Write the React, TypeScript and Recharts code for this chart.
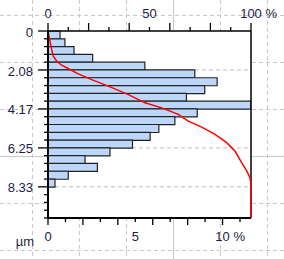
import { ComposedChart, Bar, Line, XAxis, YAxis, CartesianGrid, ReferenceLine } from 'recharts';

const FONT = '"Liberation Sans", Arial, sans-serif';
const FONT_SIZE = 13;
const INK = '#1c1c48';

// histogram bins: upper edge of each class (µm) and its share (%)
const binEdges = [
  '0.42', '0.83', '1.25', '1.67', '2.08', '2.50', '2.92', '3.33', '3.75', '4.17', '4.58', '5.00',
  '5.42', '5.83', '6.25', '6.67', '7.08', '7.50', '7.92', '8.33', '8.75', '9.17', '9.58', '10.0',
];
const binShare = [
  0.69, 0.97, 1.49, 2.56, 5.55, 8.41, 9.69, 8.98, 7.93, 11.63, 8.55, 7.27,
  6.35, 5.85, 4.84, 3.55, 2.12, 2.83, 1.16, 0.4, 0, 0, 0, 0,
];

// cumulative curve (red), depth in µm vs cumulative %
const curveDepth = [
  0, 0.55, 1.0, 1.35, 1.62, 1.83, 2.06, 2.29, 2.6, 2.95, 3.4, 3.84,
  4.11, 4.46, 4.82, 5.14, 5.53, 5.97, 6.42, 7.04, 7.48, 7.84, 8.2, 10,
];
const curveCum = [
  0, 1.0, 1.8, 2.6, 4.3, 6.7, 10.8, 14.9, 21.5, 29.7, 39.6, 47.8,
  56.0, 64.2, 69.1, 75.7, 82.3, 88.0, 92.1, 95.4, 97.9, 99.5, 100, 100,
];

// axis ticks
const depthTicks = [
  0, 0.417, 0.833, 1.25, 1.667, 2.083, 2.5, 2.917, 3.333, 3.75, 4.167, 4.583, 5,
  5.417, 5.833, 6.25, 6.667, 7.083, 7.5, 7.917, 8.333, 8.75, 9.167, 9.583, 10,
];
const depthMajor = [0, 2.083, 4.167, 6.25, 8.333];
const depthLabels = ['0', '2.08', '4.17', '6.25', '8.33'];

const shareTicks = [0, 1, 2, 3, 4, 5, 6, 7, 8, 9, 10, 11];
const shareLabelAt = [0, 5, 10];
const shareLabels = ['0', '5', '10'];
const shareMax = 11.63;

const cumTicks = [0, 10, 20, 30, 40, 50, 60, 70, 80, 90, 100];
const cumLabelAt = [0, 50, 100];
const cumLabels = ['0', '50', '100'];

const data = binEdges.map((bin, i) => ({ bin, share: binShare[i] }));
const curve = curveDepth.map((depth, i) => ({ depth, cum: curveCum[i] }));

const textProps = { fontFamily: FONT, fontSize: FONT_SIZE, fill: INK };

// number centred on the tick, optional " %" hanging after it
function tickText(x: number, y: number, label: string, last: boolean) {
  if (!last) {
    return (
      <text x={x} y={y} dy="0.35em" textAnchor="middle" {...textProps}>
        {label}
      </text>
    );
  }
  const w = label.length * FONT_SIZE * 0.556;
  return (
    <text x={x - w / 2} y={y} dy="0.35em" textAnchor="start" {...textProps}>
      {label + ' %'}
    </text>
  );
}

function TopTick({ x, y, payload }: any) {
  const v = payload.value;
  const i = cumLabelAt.indexOf(v);
  const len = v % 20 === 0 ? 8 : 4;
  return (
    <g>
      <line x1={x} x2={x} y1={y} y2={y - len} stroke="#000" strokeWidth={1.3} />
      {i >= 0 && tickText(x, y - 18, cumLabels[i], i === cumLabels.length - 1)}
    </g>
  );
}

function BottomTick({ x, y, payload }: any) {
  const v = payload.value;
  const i = shareLabelAt.indexOf(v);
  const len = v % 2 === 0 ? 7 : 4;
  return (
    <g>
      <line x1={x} x2={x} y1={y} y2={y + len} stroke="#000" strokeWidth={1.3} />
      {i >= 0 && tickText(x, y + 18, shareLabels[i], i === shareLabels.length - 1)}
    </g>
  );
}

function DepthTick({ x, y, payload }: any) {
  const v = payload.value;
  const i = depthMajor.findIndex((m) => Math.abs(m - v) < 0.01);
  const len = i >= 0 ? 10 : 4;
  return (
    <g>
      <line x1={x - len} x2={x} y1={y} y2={y} stroke="#000" strokeWidth={1.3} />
      {i >= 0 && (
        <text x={x - 15} y={y + 1} dy="0.35em" textAnchor="end" {...textProps}>
          {depthLabels[i]}
        </text>
      )}
    </g>
  );
}

// faint page grid behind the chart
function PageGrid() {
  const pos = [32, 79, 126, 173, 220, 267];
  const ypos = [15, 62, 109, 156, 203, 250];
  return (
    <svg width={284} height={259} style={{ position: 'absolute', left: 0, top: 0 }}>
      {pos.map((x) => (
        <line key={'v' + x} x1={x + 0.5} x2={x + 0.5} y1={0} y2={259} stroke="#c8c8c8"
          strokeDasharray={x === 173 ? undefined : '4 3'} />
      ))}
      {ypos.map((y) => (
        <line key={'h' + y} x1={0} x2={284} y1={y + 0.5} y2={y + 0.5} stroke="#c8c8c8"
          strokeDasharray={y === 156 ? undefined : '4 3'} />
      ))}
    </svg>
  );
}

export default function App() {
  return (
    <div style={{ position: 'absolute', left: 0, top: 0, width: 284, height: 259, background: '#fff' }}>
      <PageGrid />
      <div style={{ position: 'absolute', left: 0, top: 0 }}>
        <ComposedChart
          layout="vertical"
          width={284}
          height={259}
          data={data}
          barCategoryGap={0}
          margin={{ top: 0, right: 33, bottom: 0, left: 0 }}
        >
          <CartesianGrid
            xAxisId="share"
            yAxisId="depth"
            fill="#fff"
            vertical={false}
            horizontalValues={depthMajor.slice(1)}
            stroke="#bdbdbd"
            strokeDasharray="4 3"
          />
          <XAxis
            xAxisId="share"
            type="number"
            orientation="bottom"
            domain={[0, shareMax]}
            allowDataOverflow
            ticks={shareTicks}
            interval={0}
            height={41}
            tickSize={0}
            tickMargin={0}
            tickLine={false}
            axisLine={{ stroke: '#000', strokeWidth: 2 }}
            tick={<BottomTick />}
          />
          <XAxis
            xAxisId="cum"
            type="number"
            orientation="top"
            domain={[0, 100]}
            ticks={cumTicks}
            interval={0}
            height={31}
            tickSize={0}
            tickMargin={0}
            tickLine={false}
            axisLine={{ stroke: '#000', strokeWidth: 1.5 }}
            tick={<TopTick />}
          />
          <YAxis
            yAxisId="depth"
            type="number"
            dataKey="depth"
            domain={[0, 10]}
            ticks={depthTicks}
            interval={0}
            width={48}
            tickSize={0}
            tickMargin={0}
            tickLine={false}
            axisLine={{ stroke: '#000', strokeWidth: 2 }}
            tick={<DepthTick />}
          />
          <YAxis yAxisId="bin" type="category" dataKey="bin" width={0} hide />
          <Bar
            xAxisId="share"
            yAxisId="bin"
            dataKey="share"
            fill="#bdd7fb"
            stroke="#222"
            strokeWidth={1.2}
            isAnimationActive={false}
          />
          <ReferenceLine xAxisId="share" yAxisId="depth" x={shareMax} stroke="#000" strokeWidth={1.5} />
          <Line
            data={curve}
            xAxisId="cum"
            yAxisId="depth"
            dataKey="cum"
            stroke="#ff0000"
            strokeWidth={1.5}
            dot={false}
            type="linear"
            isAnimationActive={false}
          />
        </ComposedChart>
      </div>
      <svg width={284} height={259} style={{ position: 'absolute', left: 0, top: 0, pointerEvents: 'none' }}>
        <text x={25} y={241} dy="0.35em" textAnchor="middle" {...textProps}>
          µm
        </text>
      </svg>
    </div>
  );
}
